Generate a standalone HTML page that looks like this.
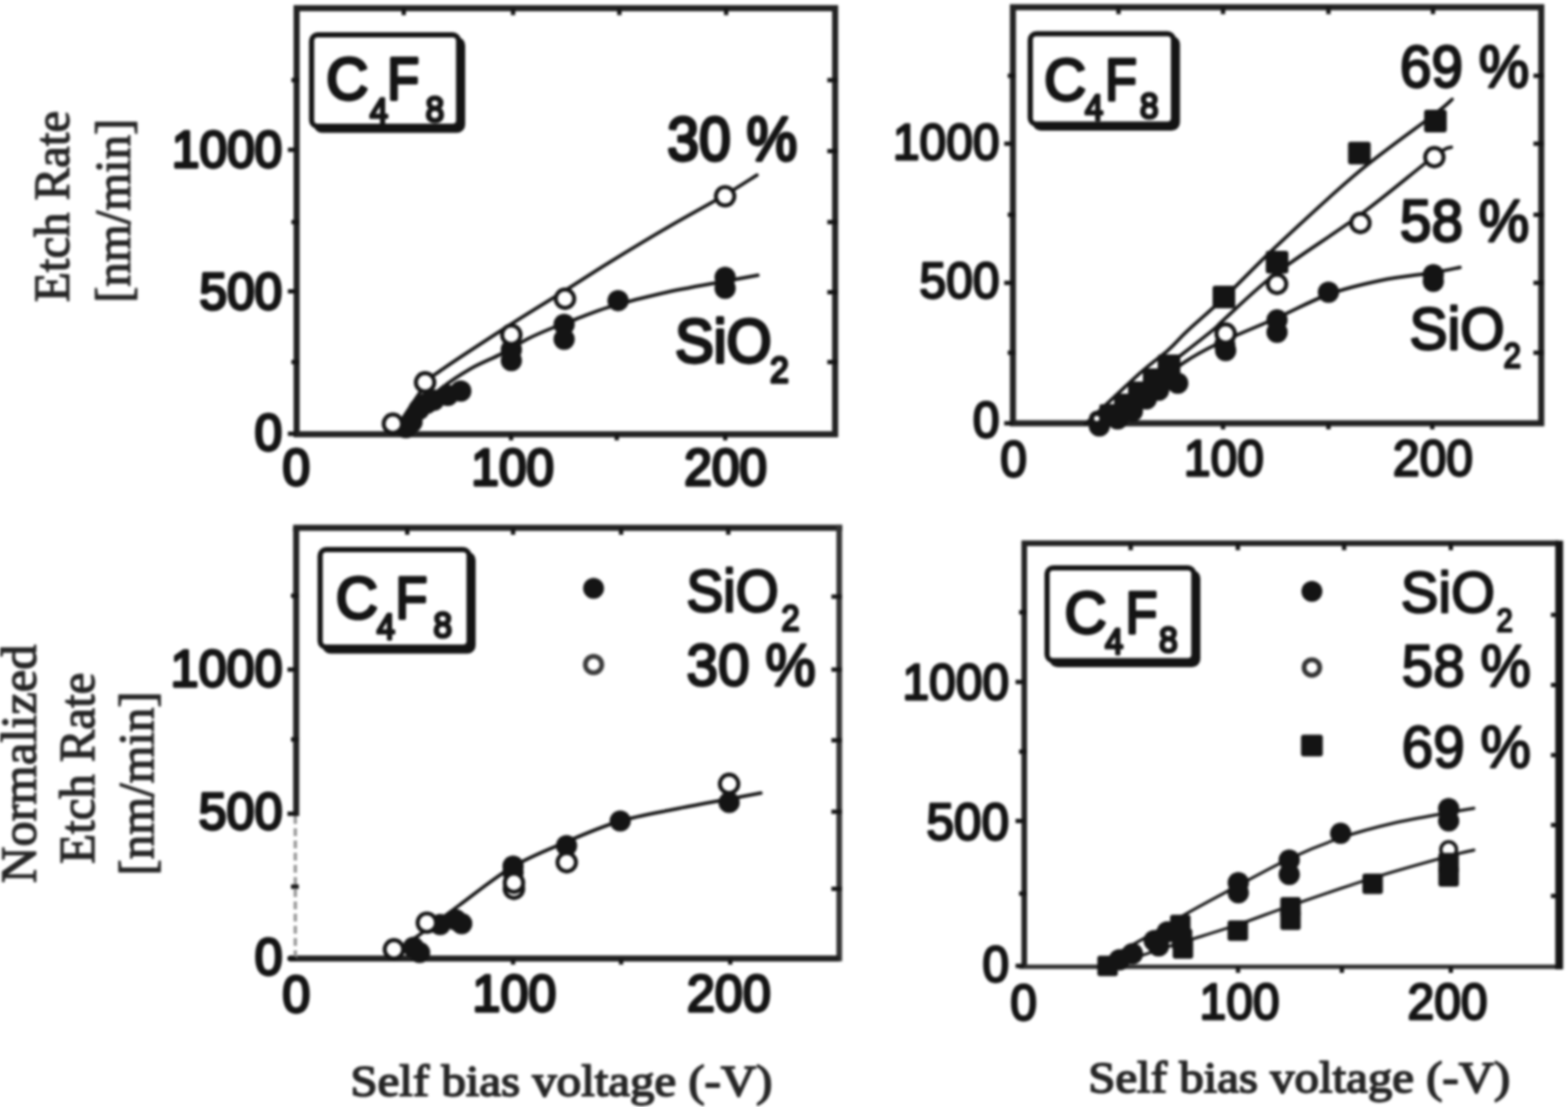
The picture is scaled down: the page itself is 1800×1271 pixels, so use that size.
<!DOCTYPE html>
<html lang="en">
<head>
<meta charset="utf-8">
<title>Etch rate vs. self bias voltage</title>
<style>
html,body{margin:0;padding:0;background:#fff;}
body{width:1800px;height:1271px;overflow:hidden;}
svg{display:block;filter:blur(1.7px);}
text{font-family:"Liberation Sans",sans-serif;}
text.sf{font-family:"Liberation Serif",serif;}
</style>
</head>
<body>
<svg width="1800" height="1271" viewBox="0 0 1800 1271">
<rect x="-20" y="-20" width="1840" height="1311" fill="#fff"/>
<rect x="340.5" y="9.4" width="618.2" height="489.2" fill="none" stroke="#222" stroke-width="7"/>
<line x1="586.7" y1="498.6" x2="586.7" y2="505.6" stroke="#141414" stroke-width="5"/>
<line x1="708.0" y1="498.6" x2="708.0" y2="505.6" stroke="#141414" stroke-width="5"/>
<line x1="832.5" y1="498.6" x2="832.5" y2="505.6" stroke="#141414" stroke-width="5"/>
<line x1="463.5" y1="9.4" x2="463.5" y2="17.4" stroke="#141414" stroke-width="5"/>
<line x1="589.0" y1="9.4" x2="589.0" y2="17.4" stroke="#141414" stroke-width="5"/>
<line x1="711.0" y1="9.4" x2="711.0" y2="17.4" stroke="#141414" stroke-width="5"/>
<line x1="833.6" y1="9.4" x2="833.6" y2="17.4" stroke="#141414" stroke-width="5"/>
<line x1="330.5" y1="172.0" x2="340.5" y2="172.0" stroke="#141414" stroke-width="5"/>
<line x1="330.5" y1="334.5" x2="340.5" y2="334.5" stroke="#141414" stroke-width="5"/>
<line x1="330.5" y1="498.0" x2="340.5" y2="498.0" stroke="#141414" stroke-width="5"/>
<line x1="334.5" y1="92.0" x2="343.5" y2="92.0" stroke="#141414" stroke-width="5"/>
<line x1="334.5" y1="255.0" x2="343.5" y2="255.0" stroke="#141414" stroke-width="5"/>
<line x1="334.5" y1="415.7" x2="343.5" y2="415.7" stroke="#141414" stroke-width="5"/>
<line x1="949.7" y1="92.0" x2="961.7" y2="92.0" stroke="#141414" stroke-width="5"/>
<line x1="949.7" y1="173.5" x2="961.7" y2="173.5" stroke="#141414" stroke-width="5"/>
<line x1="949.7" y1="255.0" x2="961.7" y2="255.0" stroke="#141414" stroke-width="5"/>
<line x1="949.7" y1="335.5" x2="961.7" y2="335.5" stroke="#141414" stroke-width="5"/>
<line x1="949.7" y1="415.7" x2="961.7" y2="415.7" stroke="#141414" stroke-width="5"/>
<rect x="362.7" y="45.0" width="168.8" height="105.0" rx="7" fill="#141414" stroke="#141414" stroke-width="5"/>
<rect x="357.7" y="40.0" width="168.8" height="105.0" rx="7" fill="#fff" stroke="#141414" stroke-width="6"/>
<text fill="#141414" stroke="#141414" stroke-linejoin="round"><tspan x="374.5" y="114.2" font-size="69" stroke-width="3.8" textLength="48.33" lengthAdjust="spacingAndGlyphs">C</tspan><tspan x="424.5" y="142.0" font-size="42" stroke-width="3.2" textLength="21.02" lengthAdjust="spacingAndGlyphs">4</tspan><tspan x="444.5" y="114.2" font-size="69" stroke-width="3.8" textLength="36.67" lengthAdjust="spacingAndGlyphs">F</tspan><tspan x="488.5" y="140.0" font-size="43" stroke-width="3.2" textLength="21.52" lengthAdjust="spacingAndGlyphs">8</tspan></text>
<text transform="translate(324.0 192.0) scale(0.965 1)" font-size="59" text-anchor="end" fill="#141414" stroke="#141414" stroke-width="3.5" stroke-linejoin="round">1000</text>
<text transform="translate(324.0 354.5) scale(0.965 1)" font-size="59" text-anchor="end" fill="#141414" stroke="#141414" stroke-width="3.5" stroke-linejoin="round">500</text>
<text transform="translate(324.0 517.0) scale(0.965 1)" font-size="59" text-anchor="end" fill="#141414" stroke="#141414" stroke-width="3.5" stroke-linejoin="round">0</text>
<text transform="translate(340.0 557.0) scale(0.965 1)" font-size="59" text-anchor="middle" fill="#141414" stroke="#141414" stroke-width="3.5" stroke-linejoin="round">0</text>
<text transform="translate(588.5 557.0) scale(0.965 1)" font-size="59" text-anchor="middle" fill="#141414" stroke="#141414" stroke-width="3.5" stroke-linejoin="round">100</text>
<text transform="translate(833.0 557.0) scale(0.965 1)" font-size="59" text-anchor="middle" fill="#141414" stroke="#141414" stroke-width="3.5" stroke-linejoin="round">200</text>
<text transform="translate(766.0 184.0) scale(0.935 1)" font-size="70" text-anchor="start" fill="#141414" stroke="#141414" stroke-width="3.8" stroke-linejoin="round">30 %</text>
<text fill="#141414" stroke="#141414" stroke-linejoin="round"><tspan x="775.0" y="416.0" font-size="70" stroke-width="3.8" textLength="110.86" lengthAdjust="spacingAndGlyphs">SiO</tspan><tspan x="884.0" y="439.0" font-size="43" stroke-width="3.4" textLength="21.52" lengthAdjust="spacingAndGlyphs">2</tspan></text>
<text class="sf" transform="translate(78.5 237.0) rotate(-90) scale(1.0 1)" font-size="56" text-anchor="middle" fill="#262626" stroke="#262626" stroke-width="1.5" stroke-linejoin="round">Etch Rate</text>
<text class="sf" transform="translate(148.5 242.0) rotate(-90) scale(1.0 1)" font-size="56" text-anchor="middle" fill="#262626" stroke="#262626" stroke-width="1.5" stroke-linejoin="round">[nm/min]</text>
<path d="M456.0,490.0 C461.5,481.8 480.8,451.7 489.0,441.0 C497.2,430.3 488.7,437.5 505.0,426.0 C521.3,414.5 563.2,387.3 587.0,372.0 C610.8,356.7 629.2,345.8 648.0,334.0 C666.8,322.2 679.7,313.5 700.0,301.0 C720.3,288.5 748.0,271.8 770.0,259.0 C792.0,246.2 815.5,233.7 832.0,224.0 C848.5,214.3 862.8,204.8 869.0,201.0" fill="none" stroke="#141414" stroke-width="4.0" stroke-linecap="round"/>
<path d="M462.0,492.0 C465.0,488.5 472.8,478.5 480.0,471.0 C487.2,463.5 495.0,454.9 505.0,447.0 C515.0,439.1 528.2,430.3 540.0,423.5 C551.8,416.7 564.5,412.1 575.5,406.4 C586.5,400.6 596.0,394.1 606.0,389.0 C616.0,383.9 626.0,379.8 635.4,376.0 C644.8,372.2 651.7,369.9 662.3,366.0 C672.9,362.1 682.7,357.5 699.0,352.6 C715.3,347.7 737.8,341.6 760.0,336.7 C782.2,331.8 813.7,326.4 832.0,323.0 C850.3,319.6 863.7,317.2 870.0,316.0" fill="none" stroke="#141414" stroke-width="4.0" stroke-linecap="round"/>
<circle cx="466.0" cy="491.0" r="12.2" fill="#141414"/>
<circle cx="473.0" cy="484.5" r="12.2" fill="#141414"/>
<circle cx="481.0" cy="470.0" r="12.2" fill="#141414"/>
<circle cx="490.0" cy="463.0" r="12.2" fill="#141414"/>
<circle cx="498.0" cy="459.5" r="12.2" fill="#141414"/>
<circle cx="514.0" cy="454.0" r="12.2" fill="#141414"/>
<circle cx="529.0" cy="449.0" r="12.2" fill="#141414"/>
<circle cx="587.0" cy="401.5" r="12.2" fill="#141414"/>
<circle cx="587.0" cy="414.0" r="12.2" fill="#141414"/>
<circle cx="647.6" cy="372.5" r="12.2" fill="#141414"/>
<circle cx="647.6" cy="389.5" r="12.2" fill="#141414"/>
<circle cx="709.5" cy="345.2" r="12.2" fill="#141414"/>
<circle cx="832.4" cy="318.5" r="12.2" fill="#141414"/>
<circle cx="832.4" cy="331.0" r="12.2" fill="#141414"/>
<circle cx="451.0" cy="486.5" r="10.6" fill="#fff" stroke="#141414" stroke-width="4.6"/>
<circle cx="488.0" cy="439.0" r="10.6" fill="#fff" stroke="#141414" stroke-width="4.6"/>
<circle cx="587.0" cy="384.4" r="10.6" fill="#fff" stroke="#141414" stroke-width="4.6"/>
<circle cx="648.6" cy="343.0" r="10.6" fill="#fff" stroke="#141414" stroke-width="4.6"/>
<circle cx="832.4" cy="225.3" r="10.6" fill="#fff" stroke="#141414" stroke-width="4.6"/>
<rect x="1162.8" y="8.3" width="606.5" height="477.7" fill="none" stroke="#222" stroke-width="7"/>
<line x1="1404.0" y1="486.0" x2="1404.0" y2="493.0" stroke="#141414" stroke-width="5"/>
<line x1="1525.0" y1="486.0" x2="1525.0" y2="493.0" stroke="#141414" stroke-width="5"/>
<line x1="1644.2" y1="486.0" x2="1644.2" y2="493.0" stroke="#141414" stroke-width="5"/>
<line x1="1284.0" y1="8.3" x2="1284.0" y2="16.3" stroke="#141414" stroke-width="5"/>
<line x1="1404.0" y1="8.3" x2="1404.0" y2="16.3" stroke="#141414" stroke-width="5"/>
<line x1="1525.0" y1="8.3" x2="1525.0" y2="16.3" stroke="#141414" stroke-width="5"/>
<line x1="1645.0" y1="8.3" x2="1645.0" y2="16.3" stroke="#141414" stroke-width="5"/>
<line x1="1152.8" y1="165.0" x2="1162.8" y2="165.0" stroke="#141414" stroke-width="5"/>
<line x1="1152.8" y1="324.8" x2="1162.8" y2="324.8" stroke="#141414" stroke-width="5"/>
<line x1="1152.8" y1="486.0" x2="1162.8" y2="486.0" stroke="#141414" stroke-width="5"/>
<line x1="1156.8" y1="87.0" x2="1165.8" y2="87.0" stroke="#141414" stroke-width="5"/>
<line x1="1156.8" y1="246.6" x2="1165.8" y2="246.6" stroke="#141414" stroke-width="5"/>
<line x1="1156.8" y1="405.0" x2="1165.8" y2="405.0" stroke="#141414" stroke-width="5"/>
<line x1="1760.3" y1="87.0" x2="1772.3" y2="87.0" stroke="#141414" stroke-width="5"/>
<line x1="1760.3" y1="165.0" x2="1772.3" y2="165.0" stroke="#141414" stroke-width="5"/>
<line x1="1760.3" y1="246.6" x2="1772.3" y2="246.6" stroke="#141414" stroke-width="5"/>
<line x1="1760.3" y1="324.8" x2="1772.3" y2="324.8" stroke="#141414" stroke-width="5"/>
<line x1="1760.3" y1="405.0" x2="1772.3" y2="405.0" stroke="#141414" stroke-width="5"/>
<rect x="1187.7" y="43.8" width="164.4" height="103.7" rx="7" fill="#141414" stroke="#141414" stroke-width="5"/>
<rect x="1182.7" y="38.8" width="164.4" height="103.7" rx="7" fill="#fff" stroke="#141414" stroke-width="6"/>
<text fill="#141414" stroke="#141414" stroke-linejoin="round"><tspan x="1198.5" y="114.7" font-size="69" stroke-width="3.4" textLength="48.33" lengthAdjust="spacingAndGlyphs">C</tspan><tspan x="1245.5" y="138.0" font-size="42" stroke-width="3.2" textLength="21.02" lengthAdjust="spacingAndGlyphs">4</tspan><tspan x="1268.5" y="114.7" font-size="69" stroke-width="3.4" textLength="36.67" lengthAdjust="spacingAndGlyphs">F</tspan><tspan x="1308.5" y="136.0" font-size="43" stroke-width="3.2" textLength="21.52" lengthAdjust="spacingAndGlyphs">8</tspan></text>
<text transform="translate(1147.5 183.0) scale(0.95 1)" font-size="58" text-anchor="end" fill="#141414" stroke="#141414" stroke-width="2.8" stroke-linejoin="round">1000</text>
<text transform="translate(1147.5 341.5) scale(0.95 1)" font-size="58" text-anchor="end" fill="#141414" stroke="#141414" stroke-width="2.8" stroke-linejoin="round">500</text>
<text transform="translate(1147.5 502.0) scale(0.95 1)" font-size="58" text-anchor="end" fill="#141414" stroke="#141414" stroke-width="2.8" stroke-linejoin="round">0</text>
<text transform="translate(1163.5 547.0) scale(0.95 1)" font-size="58" text-anchor="middle" fill="#141414" stroke="#141414" stroke-width="2.8" stroke-linejoin="round">0</text>
<text transform="translate(1405.0 546.0) scale(0.95 1)" font-size="58" text-anchor="middle" fill="#141414" stroke="#141414" stroke-width="2.8" stroke-linejoin="round">100</text>
<text transform="translate(1645.0 546.0) scale(0.95 1)" font-size="58" text-anchor="middle" fill="#141414" stroke="#141414" stroke-width="2.8" stroke-linejoin="round">200</text>
<text transform="translate(1607.0 99.5) scale(0.945 1)" font-size="69" text-anchor="start" fill="#141414" stroke="#141414" stroke-width="2.8" stroke-linejoin="round">69 %</text>
<text transform="translate(1607.0 276.5) scale(0.945 1)" font-size="69" text-anchor="start" fill="#141414" stroke="#141414" stroke-width="2.8" stroke-linejoin="round">58 %</text>
<text fill="#141414" stroke="#141414" stroke-linejoin="round"><tspan x="1618.0" y="400.5" font-size="69" stroke-width="2.8" textLength="109.27" lengthAdjust="spacingAndGlyphs">SiO</tspan><tspan x="1726.0" y="422.0" font-size="40" stroke-width="2.8" textLength="20.02" lengthAdjust="spacingAndGlyphs">2</tspan></text>
<path d="M1246.0,487.0 C1256.3,477.3 1292.2,443.2 1308.0,429.0 C1323.8,414.8 1331.8,410.2 1341.0,402.0 C1350.2,393.8 1352.3,390.0 1363.0,380.0 C1373.7,370.0 1387.8,358.3 1405.0,342.0 C1422.2,325.7 1440.2,306.2 1466.0,282.0 C1491.8,257.8 1529.8,222.2 1560.0,197.0 C1590.2,171.8 1629.2,144.8 1647.0,131.0 C1664.8,117.2 1663.7,116.8 1667.0,114.0" fill="none" stroke="#141414" stroke-width="4.0" stroke-linecap="round"/>
<path d="M1256.0,487.0 C1268.3,477.2 1307.5,445.8 1330.0,428.0 C1352.5,410.2 1378.5,390.2 1391.0,380.0 C1403.5,369.8 1392.5,378.2 1405.0,367.0 C1417.5,355.8 1440.0,333.0 1466.0,313.0 C1492.0,293.0 1530.8,269.3 1561.0,247.0 C1591.2,224.7 1629.5,192.0 1647.0,179.0 C1664.5,166.0 1662.8,170.7 1666.0,169.0" fill="none" stroke="#141414" stroke-width="4.0" stroke-linecap="round"/>
<path d="M1266.0,487.0 C1276.7,479.2 1314.7,451.7 1330.0,440.0 C1345.3,428.3 1346.8,424.5 1358.0,417.0 C1369.2,409.5 1379.0,403.7 1397.0,395.0 C1415.0,386.3 1444.7,374.5 1466.0,365.0 C1487.3,355.5 1505.2,345.2 1525.0,338.0 C1544.8,330.8 1565.0,326.2 1585.0,322.0 C1605.0,317.8 1629.8,315.5 1645.0,313.0 C1660.2,310.5 1670.8,308.0 1676.0,307.0" fill="none" stroke="#141414" stroke-width="4.0" stroke-linecap="round"/>
<rect x="1547.5" y="162.8" width="26" height="26" rx="3" fill="#141414"/>
<rect x="1634.8" y="126.0" width="26" height="26" rx="3" fill="#141414"/>
<rect x="1453.0" y="288.0" width="26" height="26" rx="3" fill="#141414"/>
<rect x="1392.0" y="328.0" width="26" height="26" rx="3" fill="#141414"/>
<rect x="1262.0" y="464.0" width="26" height="26" rx="3" fill="#141414"/>
<rect x="1279.0" y="452.0" width="26" height="26" rx="3" fill="#141414"/>
<rect x="1295.0" y="438.0" width="26" height="26" rx="3" fill="#141414"/>
<rect x="1312.0" y="423.0" width="26" height="26" rx="3" fill="#141414"/>
<rect x="1329.0" y="407.0" width="26" height="26" rx="3" fill="#141414"/>
<circle cx="1645.4" cy="315.4" r="12.2" fill="#141414"/>
<circle cx="1645.4" cy="323.0" r="12.2" fill="#141414"/>
<circle cx="1525.0" cy="335.5" r="12.2" fill="#141414"/>
<circle cx="1466.0" cy="367.3" r="12.2" fill="#141414"/>
<circle cx="1466.0" cy="381.5" r="12.2" fill="#141414"/>
<circle cx="1407.0" cy="402.5" r="12.2" fill="#141414"/>
<circle cx="1406.0" cy="396.0" r="12.2" fill="#141414"/>
<circle cx="1340.0" cy="436.0" r="12.2" fill="#141414"/>
<circle cx="1352.0" cy="440.0" r="12.2" fill="#141414"/>
<circle cx="1330.0" cy="448.0" r="12.2" fill="#141414"/>
<circle cx="1316.0" cy="458.0" r="12.2" fill="#141414"/>
<circle cx="1300.0" cy="472.0" r="12.2" fill="#141414"/>
<circle cx="1283.0" cy="481.0" r="12.2" fill="#141414"/>
<circle cx="1262.0" cy="489.0" r="12.2" fill="#141414"/>
<circle cx="1646.6" cy="180.5" r="10.6" fill="#fff" stroke="#141414" stroke-width="4.6"/>
<circle cx="1561.7" cy="256.0" r="10.6" fill="#fff" stroke="#141414" stroke-width="4.6"/>
<circle cx="1466.0" cy="326.0" r="10.6" fill="#fff" stroke="#141414" stroke-width="4.6"/>
<circle cx="1407.0" cy="383.0" r="10.6" fill="#fff" stroke="#141414" stroke-width="4.6"/>
<circle cx="1259.0" cy="480.5" r="6" fill="#fff" stroke="#141414" stroke-width="6"/>
<path d="M340,606 L963.4,606" fill="none" stroke="#222" stroke-width="7" stroke-linecap="square"/>
<path d="M963.4,606 L963.4,1100.5" fill="none" stroke="#333" stroke-width="6.5" stroke-linecap="square"/>
<path d="M332,1100.5 L963.4,1100.5" fill="none" stroke="#222" stroke-width="7"/>
<path d="M340,606 L340,937" fill="none" stroke="#222" stroke-width="7"/>
<path d="M339,937 L339,1100.5" fill="none" stroke="#9a9a9a" stroke-width="4" stroke-dasharray="9 5"/>
<line x1="589.0" y1="1100.5" x2="589.0" y2="1107.5" stroke="#141414" stroke-width="5"/>
<line x1="713.0" y1="1100.5" x2="713.0" y2="1107.5" stroke="#141414" stroke-width="5"/>
<line x1="838.3" y1="1100.5" x2="838.3" y2="1107.5" stroke="#141414" stroke-width="5"/>
<line x1="467.5" y1="606.0" x2="467.5" y2="614.0" stroke="#141414" stroke-width="5"/>
<line x1="589.0" y1="606.0" x2="589.0" y2="614.0" stroke="#141414" stroke-width="5"/>
<line x1="713.0" y1="606.0" x2="713.0" y2="614.0" stroke="#141414" stroke-width="5"/>
<line x1="836.0" y1="606.0" x2="836.0" y2="614.0" stroke="#141414" stroke-width="5"/>
<line x1="330.0" y1="768.8" x2="340.0" y2="768.8" stroke="#141414" stroke-width="5"/>
<line x1="330.0" y1="934.3" x2="340.0" y2="934.3" stroke="#141414" stroke-width="5"/>
<line x1="330.0" y1="1100.5" x2="340.0" y2="1100.5" stroke="#141414" stroke-width="5"/>
<line x1="334.0" y1="684.0" x2="343.0" y2="684.0" stroke="#141414" stroke-width="5"/>
<line x1="334.0" y1="849.0" x2="343.0" y2="849.0" stroke="#141414" stroke-width="5"/>
<line x1="334.0" y1="1018.0" x2="343.0" y2="1018.0" stroke="#141414" stroke-width="5"/>
<line x1="954.4" y1="685.0" x2="966.4" y2="685.0" stroke="#141414" stroke-width="5"/>
<line x1="954.4" y1="768.8" x2="966.4" y2="768.8" stroke="#141414" stroke-width="5"/>
<line x1="954.4" y1="850.0" x2="966.4" y2="850.0" stroke="#141414" stroke-width="5"/>
<line x1="954.4" y1="932.0" x2="966.4" y2="932.0" stroke="#141414" stroke-width="5"/>
<line x1="954.4" y1="1020.5" x2="966.4" y2="1020.5" stroke="#141414" stroke-width="5"/>
<rect x="372.5" y="636.0" width="171.0" height="112.0" rx="7" fill="#141414" stroke="#141414" stroke-width="5"/>
<rect x="367.5" y="631.0" width="171.0" height="112.0" rx="7" fill="#fff" stroke="#141414" stroke-width="6"/>
<text fill="#141414" stroke="#141414" stroke-linejoin="round"><tspan x="385.5" y="709.7" font-size="69" stroke-width="3.6" textLength="48.33" lengthAdjust="spacingAndGlyphs">C</tspan><tspan x="432.5" y="733.5" font-size="42" stroke-width="3.2" textLength="21.02" lengthAdjust="spacingAndGlyphs">4</tspan><tspan x="454.0" y="709.7" font-size="69" stroke-width="3.6" textLength="36.67" lengthAdjust="spacingAndGlyphs">F</tspan><tspan x="497.5" y="731.5" font-size="43" stroke-width="3.2" textLength="21.52" lengthAdjust="spacingAndGlyphs">8</tspan></text>
<text transform="translate(324.5 787.5) scale(0.965 1)" font-size="60" text-anchor="end" fill="#141414" stroke="#141414" stroke-width="3.3" stroke-linejoin="round">1000</text>
<text transform="translate(324.5 951.5) scale(0.965 1)" font-size="60" text-anchor="end" fill="#141414" stroke="#141414" stroke-width="3.3" stroke-linejoin="round">500</text>
<text transform="translate(324.5 1119.0) scale(0.965 1)" font-size="60" text-anchor="end" fill="#141414" stroke="#141414" stroke-width="3.3" stroke-linejoin="round">0</text>
<text transform="translate(340.0 1162.0) scale(0.965 1)" font-size="60" text-anchor="middle" fill="#141414" stroke="#141414" stroke-width="3.3" stroke-linejoin="round">0</text>
<text transform="translate(590.5 1161.0) scale(0.965 1)" font-size="60" text-anchor="middle" fill="#141414" stroke="#141414" stroke-width="3.3" stroke-linejoin="round">100</text>
<text transform="translate(836.7 1161.0) scale(0.965 1)" font-size="60" text-anchor="middle" fill="#141414" stroke="#141414" stroke-width="3.3" stroke-linejoin="round">200</text>
<text fill="#141414" stroke="#141414" stroke-linejoin="round"><tspan x="788.0" y="701.5" font-size="69" stroke-width="3.0" textLength="105.82" lengthAdjust="spacingAndGlyphs">SiO</tspan><tspan x="897.0" y="724.0" font-size="42" stroke-width="3.0" textLength="21.02" lengthAdjust="spacingAndGlyphs">2</tspan></text>
<text transform="translate(788.0 787.0) scale(0.945 1)" font-size="69" text-anchor="start" fill="#141414" stroke="#141414" stroke-width="3.0" stroke-linejoin="round">30 %</text>
<circle cx="681.4" cy="675.6" r="12" fill="#141414"/>
<circle cx="681.4" cy="763.0" r="9.5" fill="#fff" stroke="#3a3a3a" stroke-width="5.5"/>
<text class="sf" transform="translate(41.0 877.0) rotate(-90) scale(1.0 1)" font-size="58" text-anchor="middle" fill="#262626" stroke="#262626" stroke-width="1.5" stroke-linejoin="round">Normalized</text>
<text class="sf" transform="translate(108.0 882.0) rotate(-90) scale(1.0 1)" font-size="56" text-anchor="middle" fill="#262626" stroke="#262626" stroke-width="1.5" stroke-linejoin="round">Etch Rate</text>
<text class="sf" transform="translate(176.0 899.5) rotate(-90) scale(1.0 1)" font-size="56" text-anchor="middle" fill="#262626" stroke="#262626" stroke-width="1.5" stroke-linejoin="round">[nm/min]</text>
<text class="sf" transform="translate(644.5 1257.5) scale(1.1 1)" font-size="51" text-anchor="middle" fill="#262626" stroke="#262626" stroke-width="1.9" stroke-linejoin="round">Self bias voltage (-V)</text>
<path d="M452.0,1095.0 C458.3,1090.3 477.5,1076.2 490.0,1067.0 C502.5,1057.8 510.7,1051.4 527.0,1039.5 C543.3,1027.6 567.7,1007.6 588.0,995.5 C608.3,983.4 628.5,975.8 649.0,967.0 C669.5,958.2 690.0,949.3 711.0,943.0 C732.0,936.7 754.2,933.2 775.0,929.0 C795.8,924.8 819.6,920.6 836.0,917.5 C852.4,914.4 867.2,911.7 873.5,910.5" fill="none" stroke="#141414" stroke-width="4.0" stroke-linecap="round"/>
<circle cx="474.6" cy="1087.7" r="12.2" fill="#141414"/>
<circle cx="481.7" cy="1093.6" r="12.2" fill="#141414"/>
<circle cx="505.3" cy="1061.5" r="12.2" fill="#141414"/>
<circle cx="523.0" cy="1056.0" r="12.2" fill="#141414"/>
<circle cx="530.0" cy="1060.5" r="12.2" fill="#141414"/>
<circle cx="589.0" cy="994.5" r="12.2" fill="#141414"/>
<circle cx="589.0" cy="1001.6" r="12.2" fill="#141414"/>
<circle cx="650.4" cy="971.0" r="12.2" fill="#141414"/>
<circle cx="712.0" cy="942.6" r="12.2" fill="#141414"/>
<circle cx="837.0" cy="921.4" r="12.2" fill="#141414"/>
<circle cx="452.2" cy="1090.0" r="10.6" fill="#fff" stroke="#141414" stroke-width="4.6"/>
<circle cx="490.0" cy="1059.4" r="10.6" fill="#fff" stroke="#141414" stroke-width="4.6"/>
<circle cx="590.0" cy="1020.5" r="10.6" fill="#fff" stroke="#141414" stroke-width="4.6"/>
<circle cx="590.0" cy="1013.5" r="10.6" fill="#fff" stroke="#141414" stroke-width="4.6"/>
<circle cx="650.6" cy="990.0" r="10.6" fill="#fff" stroke="#141414" stroke-width="4.6"/>
<circle cx="837.0" cy="900.0" r="10.6" fill="#fff" stroke="#141414" stroke-width="4.6"/>
<path d="M1175.8,1110 L1175.8,623.7 L1789.4,623.7" fill="none" stroke="#222" stroke-width="6.5" stroke-linejoin="miter"/>
<path d="M1169.8,1110 L1789.4,1110" fill="none" stroke="#2c2c2c" stroke-width="5"/>
<line x1="1789.9" y1="620.7" x2="1789.9" y2="1113.0" stroke="#141414" stroke-width="9"/>
<line x1="1421.2" y1="1110.0" x2="1421.2" y2="1117.0" stroke="#141414" stroke-width="5"/>
<line x1="1540.4" y1="1110.0" x2="1540.4" y2="1117.0" stroke="#141414" stroke-width="5"/>
<line x1="1665.5" y1="1110.0" x2="1665.5" y2="1117.0" stroke="#141414" stroke-width="5"/>
<line x1="1298.0" y1="623.7" x2="1298.0" y2="631.7" stroke="#141414" stroke-width="5"/>
<line x1="1421.0" y1="623.7" x2="1421.0" y2="631.7" stroke="#141414" stroke-width="5"/>
<line x1="1543.0" y1="623.7" x2="1543.0" y2="631.7" stroke="#141414" stroke-width="5"/>
<line x1="1665.5" y1="623.7" x2="1665.5" y2="631.7" stroke="#141414" stroke-width="5"/>
<line x1="1165.8" y1="783.0" x2="1175.8" y2="783.0" stroke="#141414" stroke-width="5"/>
<line x1="1165.8" y1="942.6" x2="1175.8" y2="942.6" stroke="#141414" stroke-width="5"/>
<line x1="1165.8" y1="1109.0" x2="1175.8" y2="1109.0" stroke="#141414" stroke-width="5"/>
<line x1="1169.8" y1="703.0" x2="1178.8" y2="703.0" stroke="#141414" stroke-width="5"/>
<line x1="1169.8" y1="863.0" x2="1178.8" y2="863.0" stroke="#141414" stroke-width="5"/>
<line x1="1169.8" y1="1026.0" x2="1178.8" y2="1026.0" stroke="#141414" stroke-width="5"/>
<line x1="1780.4" y1="706.0" x2="1792.4" y2="706.0" stroke="#141414" stroke-width="5"/>
<line x1="1780.4" y1="786.5" x2="1792.4" y2="786.5" stroke="#141414" stroke-width="5"/>
<line x1="1780.4" y1="867.0" x2="1792.4" y2="867.0" stroke="#141414" stroke-width="5"/>
<line x1="1780.4" y1="947.3" x2="1792.4" y2="947.3" stroke="#141414" stroke-width="5"/>
<line x1="1780.4" y1="1028.7" x2="1792.4" y2="1028.7" stroke="#141414" stroke-width="5"/>
<rect x="1207.0" y="657.0" width="168.5" height="106.5" rx="7" fill="#141414" stroke="#141414" stroke-width="5"/>
<rect x="1202.0" y="652.0" width="168.5" height="106.5" rx="7" fill="#fff" stroke="#141414" stroke-width="6"/>
<text fill="#141414" stroke="#141414" stroke-linejoin="round"><tspan x="1222.0" y="727.2" font-size="69" stroke-width="3.4" textLength="48.33" lengthAdjust="spacingAndGlyphs">C</tspan><tspan x="1268.5" y="750.5" font-size="42" stroke-width="3.2" textLength="21.02" lengthAdjust="spacingAndGlyphs">4</tspan><tspan x="1292.0" y="727.2" font-size="69" stroke-width="3.4" textLength="36.67" lengthAdjust="spacingAndGlyphs">F</tspan><tspan x="1330.5" y="748.5" font-size="43" stroke-width="3.2" textLength="21.52" lengthAdjust="spacingAndGlyphs">8</tspan></text>
<text transform="translate(1158.5 803.0) scale(0.95 1)" font-size="58" text-anchor="end" fill="#141414" stroke="#141414" stroke-width="2.8" stroke-linejoin="round">1000</text>
<text transform="translate(1158.5 964.0) scale(0.95 1)" font-size="60" text-anchor="end" fill="#141414" stroke="#141414" stroke-width="2.8" stroke-linejoin="round">500</text>
<text transform="translate(1158.5 1127.0) scale(0.95 1)" font-size="58" text-anchor="end" fill="#141414" stroke="#141414" stroke-width="2.8" stroke-linejoin="round">0</text>
<text transform="translate(1175.0 1171.0) scale(0.95 1)" font-size="58" text-anchor="middle" fill="#141414" stroke="#141414" stroke-width="2.8" stroke-linejoin="round">0</text>
<text transform="translate(1423.0 1170.0) scale(0.95 1)" font-size="58" text-anchor="middle" fill="#141414" stroke="#141414" stroke-width="2.8" stroke-linejoin="round">100</text>
<text transform="translate(1661.7 1170.0) scale(0.95 1)" font-size="58" text-anchor="middle" fill="#141414" stroke="#141414" stroke-width="2.8" stroke-linejoin="round">200</text>
<text fill="#141414" stroke="#141414" stroke-linejoin="round"><tspan x="1608.0" y="702.5" font-size="67" stroke-width="2.4" textLength="108.34" lengthAdjust="spacingAndGlyphs">SiO</tspan><tspan x="1718.0" y="725.0" font-size="37" stroke-width="2.6" textLength="18.52" lengthAdjust="spacingAndGlyphs">2</tspan></text>
<text transform="translate(1609.0 788.0) scale(0.945 1)" font-size="69" text-anchor="start" fill="#141414" stroke="#141414" stroke-width="2.4" stroke-linejoin="round">58 %</text>
<text transform="translate(1609.0 881.0) scale(0.945 1)" font-size="69" text-anchor="start" fill="#141414" stroke="#141414" stroke-width="2.4" stroke-linejoin="round">69 %</text>
<circle cx="1506.0" cy="679.0" r="12" fill="#141414"/>
<circle cx="1506.0" cy="766.4" r="9" fill="#fff" stroke="#333" stroke-width="5.5"/>
<rect x="1493.5" y="843.5" width="25" height="25" rx="3" fill="#141414"/>
<text class="sf" transform="translate(1491.5 1254.0) scale(1.1 1)" font-size="51" text-anchor="middle" fill="#262626" stroke="#262626" stroke-width="1.9" stroke-linejoin="round">Self bias voltage (-V)</text>
<path d="M1262.0,1106.0 C1270.7,1101.2 1297.3,1086.5 1314.0,1077.0 C1330.7,1067.5 1346.7,1057.7 1362.0,1049.0 C1377.3,1040.3 1386.3,1035.5 1406.0,1025.0 C1425.7,1014.5 1457.8,996.5 1480.0,986.0 C1502.2,975.5 1519.0,968.8 1539.0,962.0 C1559.0,955.2 1579.3,949.8 1600.0,945.0 C1620.7,940.2 1647.7,935.8 1663.0,933.0 C1678.3,930.2 1687.2,928.8 1692.0,928.0" fill="none" stroke="#141414" stroke-width="3.4" stroke-linecap="round"/>
<path d="M1290.0,1104.0 C1300.0,1100.7 1328.3,1091.0 1350.0,1084.0 C1371.7,1077.0 1398.2,1069.3 1420.0,1062.0 C1441.8,1054.7 1455.0,1049.0 1481.0,1040.0 C1507.0,1031.0 1545.7,1017.5 1576.0,1008.0 C1606.3,998.5 1643.7,988.3 1663.0,983.0 C1682.3,977.7 1687.2,977.2 1692.0,976.0" fill="none" stroke="#141414" stroke-width="3.4" stroke-linecap="round"/>
<circle cx="1663.0" cy="975.6" r="9" fill="#fff" stroke="#141414" stroke-width="4"/>
<circle cx="1663.0" cy="928.4" r="12.2" fill="#141414"/>
<circle cx="1663.0" cy="942.6" r="12.2" fill="#141414"/>
<circle cx="1539.0" cy="956.8" r="12.2" fill="#141414"/>
<circle cx="1480.0" cy="987.4" r="12.2" fill="#141414"/>
<circle cx="1480.0" cy="1004.0" r="12.2" fill="#141414"/>
<circle cx="1421.5" cy="1013.4" r="12.2" fill="#141414"/>
<circle cx="1421.5" cy="1025.0" r="12.2" fill="#141414"/>
<circle cx="1340.0" cy="1070.0" r="12.2" fill="#141414"/>
<circle cx="1325.0" cy="1080.0" r="12.2" fill="#141414"/>
<circle cx="1300.0" cy="1095.0" r="12.2" fill="#141414"/>
<circle cx="1285.0" cy="1102.0" r="12.2" fill="#141414"/>
<rect x="1651.2" y="979.2" width="23.5" height="23.5" rx="3" fill="#141414"/>
<rect x="1651.2" y="994.5" width="23.5" height="23.5" rx="3" fill="#141414"/>
<rect x="1564.0" y="1002.9" width="23.5" height="23.5" rx="3" fill="#141414"/>
<rect x="1469.7" y="1030.0" width="23.5" height="23.5" rx="3" fill="#141414"/>
<rect x="1469.7" y="1044.2" width="23.5" height="23.5" rx="3" fill="#141414"/>
<rect x="1409.2" y="1056.8" width="23.5" height="23.5" rx="3" fill="#141414"/>
<rect x="1345.2" y="1066.2" width="23.5" height="23.5" rx="3" fill="#141414"/>
<rect x="1343.2" y="1050.2" width="23.5" height="23.5" rx="3" fill="#141414"/>
<rect x="1259.7" y="1097.2" width="23.5" height="23.5" rx="3" fill="#141414"/>
<rect x="1346.2" y="1077.2" width="23.5" height="23.5" rx="3" fill="#141414"/>
<circle cx="1330.0" cy="1086.0" r="12.2" fill="#141414"/>
</svg>
</body>
</html>
